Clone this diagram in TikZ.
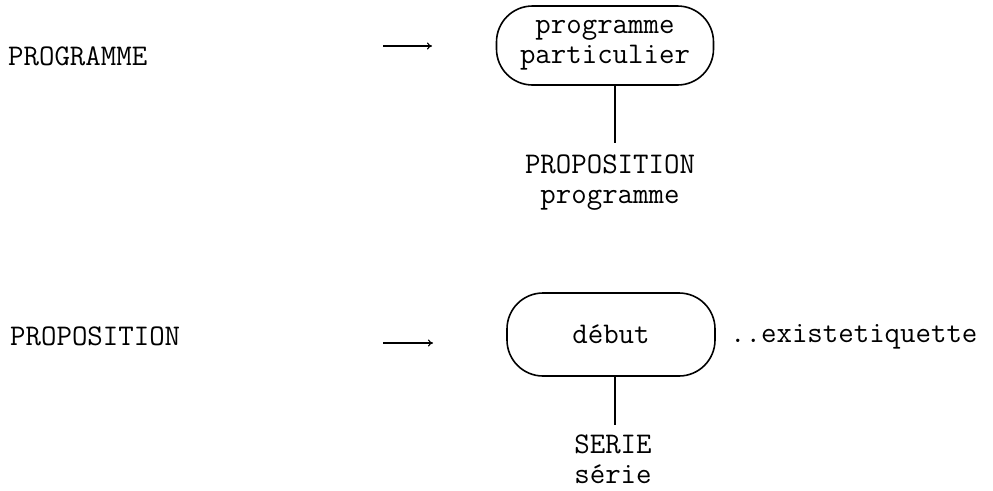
\documentclass[tikz,border=0pt]{standalone}
\usepackage{fontspec}
\usetikzlibrary{arrows.meta}
\begin{document}
\begin{tikzpicture}[x=1pt,y=1pt,
  txt/.style={inner sep=0pt, font=\ttfamily\fontsize{30}{30}\selectfont},
  lbl/.style={txt, align=center},
  rbox/.style={draw, line width=1.6pt, rounded corners=36pt, align=center, inner sep=0pt,
    font=\ttfamily\fontsize{30}{30}\selectfont},
  conn/.style={line width=1.6pt},
  maparrow/.style={line width=1.1pt, -{To[length=5pt,width=7pt]}}]
\useasboundingbox (0,0) rectangle (993,-490);
% left labels
\node[txt, anchor=base west] (lab1) at (8,-65) {PROGRAMME};
\node[txt, anchor=base west] (lab2) at (10,-345) {PROPOSITION};
% arrows
\coordinate (a1s) at (383,-46);
\coordinate (a1e) at (432,-46);
\coordinate (a2s) at (383,-343);
\coordinate (a2e) at (433,-343);
\draw[maparrow] (a1s) -- (a1e);
\draw[maparrow] (a2s) -- (a2e);
% top box
\node[rbox, minimum width=217pt, minimum height=79pt] (box1) at (605,-45.5) {programme\\particulier};
\node[lbl, anchor=north] (p1) at (610,-155) {PROPOSITION\\programme};
\draw[conn] ([xshift=10pt]box1.south) -- ([xshift=5pt,yshift=12pt]p1.north);
% bottom box
\node[rbox, minimum width=208pt, minimum height=83pt] (box2) at (611,-334.5) {début};
\node[txt, anchor=base west] (ex) at (730,-342) {..existetiquette};
\node[lbl, anchor=north] (p2) at (613,-435) {SERIE\\série};
\draw[conn] ([xshift=4pt]box2.south) -- ([xshift=2pt,yshift=10pt]p2.north);
\end{tikzpicture}
\end{document}
